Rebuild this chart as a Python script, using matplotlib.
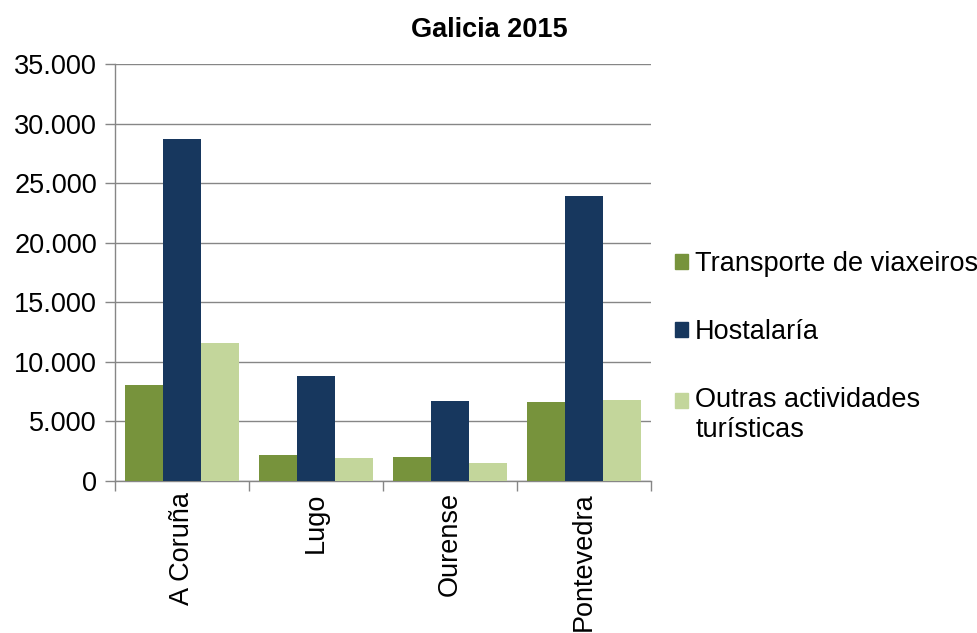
import matplotlib
matplotlib.use("Agg")
import matplotlib.pyplot as plt
import numpy as np
from matplotlib.ticker import FuncFormatter, MultipleLocator
from matplotlib.patches import Patch, Rectangle
from matplotlib.legend_handler import HandlerPatch

plt.rcParams['font.family'] = ['Liberation Sans', 'DejaVu Sans']

categories = ["A Coruña", "Lugo", "Ourense", "Pontevedra"]
series_names = ["Transporte de viaxeiros", "Hostalaría", "Outras actividades\nturísticas"]
transporte = [8100, 2200, 2000, 6600]
hostalaria = [28700, 8850, 6700, 23900]
outras = [11600, 1900, 1500, 6800]
colors = ["#77933C", "#17375E", "#C3D69B"]

fs = 19.5
fig = plt.figure(figsize=(9.78, 6.33), dpi=100)
ax = fig.add_axes([0.1176, 0.2401, 0.5480, 0.6588])

x = np.arange(len(categories))
w = 0.2857
for i, (vals, c, name) in enumerate(zip([transporte, hostalaria, outras], colors, series_names)):
    ax.bar(x + (i - 1) * w, vals, width=w, color=c, label=name, zorder=3)

ax.set_xlim(-0.5, len(categories) - 0.5)
ax.set_ylim(0, 35000)
ax.yaxis.set_major_locator(MultipleLocator(5000))
ax.yaxis.set_major_formatter(FuncFormatter(lambda v, p: f"{int(v):,}".replace(",", ".")))
ax.grid(axis='y', color='#868686', linewidth=1, zorder=0)
ax.set_xticks(x)
ax.set_xticklabels(categories, rotation=90, va='top', ha='center')
ax.set_xticks(np.arange(-0.5, len(categories), 1), minor=True)
ax.tick_params(axis='x', which='major', length=0, pad=8, labelsize=fs)
ax.tick_params(axis='x', which='minor', length=7, color='#868686', width=1)
ax.tick_params(axis='y', length=7, color='#868686', width=1, labelsize=fs, pad=6)
for s in ['top', 'right']:
    ax.spines[s].set_visible(False)
for s in ['left', 'bottom']:
    ax.spines[s].set_color('#868686')
    ax.spines[s].set_linewidth(1)

fig.text(0.5, 0.953, "Galicia 2015", ha='center', va='center', fontsize=fs, fontweight='bold')


def shifted_patch(legend, orig_handle, xdescent, ydescent, width, height, fontsize):
    return Rectangle((-xdescent, -ydescent + 10.5), width, height)


handles = [Patch(color=c) for c in colors]
fig.legend(handles, series_names, loc='center left', bbox_to_anchor=(0.690, 0.452),
           frameon=False, fontsize=fs, handlelength=0.5, handleheight=0.5,
           handletextpad=0.25, labelspacing=1.55, borderaxespad=0, borderpad=0,
           handler_map={handles[2]: HandlerPatch(patch_func=shifted_patch)})

fig.savefig("out.png", dpi=100)
